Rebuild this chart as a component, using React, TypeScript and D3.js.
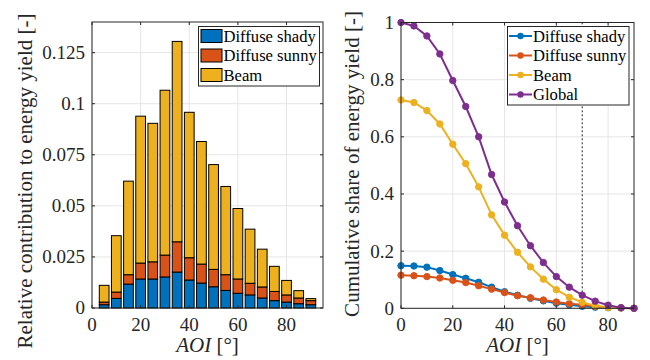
import React from "react";
import * as d3 from "d3";

const barAOI = [5, 10, 15, 20, 25, 30, 35, 40, 45, 50, 55, 60, 65, 70, 75, 80, 85, 90];
const barShady = [0.0016, 0.0047, 0.0117, 0.0142, 0.0142, 0.0152, 0.0176, 0.0137, 0.0122, 0.0104, 0.0086, 0.0072, 0.0064, 0.0049, 0.0036, 0.0029, 0.0021, 0.0016];
const barSunny = [0.0013, 0.0031, 0.0046, 0.0078, 0.0084, 0.0107, 0.0148, 0.0109, 0.0093, 0.0085, 0.0077, 0.007, 0.0057, 0.0054, 0.0045, 0.0035, 0.0028, 0.002];
const barBeam = [0.0082, 0.0276, 0.0458, 0.0719, 0.0678, 0.0807, 0.0981, 0.0712, 0.06, 0.0513, 0.0432, 0.0345, 0.0265, 0.0185, 0.0123, 0.0071, 0.0036, 0.001];

const lineAOI = [0, 5, 10, 15, 20, 25, 30, 35, 40, 45, 50, 55, 60, 65, 70, 75, 80, 85, 90];
const cumShady = [0.149, 0.148, 0.144, 0.132, 0.118, 0.105, 0.091, 0.074, 0.058, 0.046, 0.035, 0.026, 0.018, 0.012, 0.007, 0.004, 0.002, 0.001, 0];
const cumSunny = [0.116, 0.114, 0.111, 0.106, 0.098, 0.09, 0.079, 0.067, 0.055, 0.044, 0.037, 0.029, 0.022, 0.016, 0.012, 0.007, 0.004, 0.002, 0];
const cumBeam = [0.729, 0.72, 0.692, 0.645, 0.574, 0.506, 0.425, 0.327, 0.256, 0.196, 0.145, 0.102, 0.065, 0.039, 0.021, 0.009, 0.003, 0.001, 0];
const cumGlobal = [1.0, 0.988, 0.953, 0.89, 0.797, 0.706, 0.6, 0.468, 0.372, 0.289, 0.219, 0.16, 0.111, 0.074, 0.046, 0.025, 0.011, 0.002, 0];

const leftYTicks = [0, 0.025, 0.05, 0.075, 0.1, 0.125];
const leftYTickLabels = ["0", "0.025", "0.05", "0.075", "0.1", "0.125"];
const rightYTicks = [0, 0.2, 0.4, 0.6, 0.8, 1];
const rightYTickLabels = ["0", "0.2", "0.4", "0.6", "0.8", "1"];
const xTicks = [0, 20, 40, 60, 80];
const barNames = ["Diffuse shady", "Diffuse sunny", "Beam"];
const lineNames = ["Diffuse shady", "Diffuse sunny", "Beam", "Global"];
const markerAOI = 70;

const C = ["#0072BD", "#D95319", "#EDB120", "#7E2F8E"];
const AX = "#262626";
const GRID = "#e5e5e5";
const ts = { fontFamily: '"Liberation Serif"' };

function Frame({ x, y, xt, yt }: any) {
  const [x0, x1] = x.range();
  const [y0, y1] = y.range();
  return (
    <g>
      {xt.map((t: number) => (
        <line key={"gx" + t} x1={x(t)} x2={x(t)} y1={y0} y2={y1} stroke={GRID} strokeWidth={1} />
      ))}
      {yt.map((t: number) => (
        <line key={"gy" + t} x1={x0} x2={x1} y1={y(t)} y2={y(t)} stroke={GRID} strokeWidth={1} />
      ))}
    </g>
  );
}

function Axes({ x, y, xt, yt, ytl, ylabel, labelX, labelY }: any) {
  const [x0, x1] = x.range();
  const [y0, y1] = y.range();
  const tl = 3;
  const midX = (x0 + x1) / 2;
  return (
    <g fill={AX}>
      <rect x={x0} y={y1} width={x1 - x0} height={y0 - y1} fill="none" stroke={AX} strokeWidth={1} />
      {xt.map((t: number) => (
        <g key={"tx" + t}>
          <line x1={x(t)} x2={x(t)} y1={y0} y2={y0 - tl} stroke={AX} />
          <line x1={x(t)} x2={x(t)} y1={y1} y2={y1 + tl} stroke={AX} />
          <text x={x(t)} y={330.5} textAnchor="middle" fontSize={19} style={ts}>{t}</text>
        </g>
      ))}
      {yt.map((t: number, i: number) => (
        <g key={"ty" + t}>
          <line x1={x0} x2={x0 + tl} y1={y(t)} y2={y(t)} stroke={AX} />
          <line x1={x1} x2={x1 - tl} y1={y(t)} y2={y(t)} stroke={AX} />
          <text x={x0 - 7} y={y(t)} dy="0.34em" textAnchor="end" fontSize={19} style={ts}>{ytl[i]}</text>
        </g>
      ))}
      <text x={midX} y={352} textAnchor="middle" fontSize={21} style={ts}>
        <tspan fontStyle="italic">AOI</tspan>
        <tspan> [°]</tspan>
      </text>
      <text transform={`translate(${labelX},${labelY}) rotate(-90)`} textAnchor="middle" fontSize={21} style={ts}>
        {ylabel}
      </text>
    </g>
  );
}

export default function App() {
  const xL = d3.scaleLinear().domain([0, 95]).range([92, 323]);
  const yL = d3.scaleLinear().domain([0, 0.14]).range([308, 22]);
  const xR = d3.scaleLinear().domain([0, 90]).range([401, 634]);
  const yR = d3.scaleLinear().domain([0, 1]).range([308.3, 22.5]);

  const stackData = barAOI.map((a, i) => ({ a, s0: barShady[i], s1: barSunny[i], s2: barBeam[i] }));
  const stacked = d3.stack<any>().keys(["s0", "s1", "s2"])(stackData);
  const bw = xL(4) - xL(0);

  const series = [cumShady, cumSunny, cumBeam, cumGlobal];
  const line = d3
    .line<number>()
    .x((_, i) => xR(lineAOI[i]))
    .y((v) => yR(v));

  return (
    <svg width={650} height={360} style={{ position: "absolute", left: 0, top: 0, background: "#fff" }}>
      {/* Left panel */}
      <Frame x={xL} y={yL} xt={xTicks} yt={leftYTicks} />
      {stacked.map((layer, k) => (
        <g key={"layer" + k}>
          {layer.map((d: any, i: number) => (
            <rect
              key={i}
              x={xL(barAOI[i]) - bw / 2}
              y={yL(d[1])}
              width={bw}
              height={yL(d[0]) - yL(d[1])}
              fill={C[k]}
              stroke="#000"
              strokeWidth={1}
            />
          ))}
        </g>
      ))}
      <Axes x={xL} y={yL} xt={xTicks} yt={leftYTicks} ytl={leftYTickLabels} ylabel="Relative contribution to energy yield [-]" labelX={32} labelY={181} />
      <g>
        <rect x={198.5} y={26.5} width={121} height={59.5} fill="#fff" stroke={AX} strokeWidth={1} />
        {barNames.map((n, i) => (
          <g key={n}>
            <rect x={201} y={36 + i * 19.5 - 6.5} width={21} height={13} fill={C[i]} stroke="#000" strokeWidth={1} />
            <text x={223.5} y={36 + i * 19.5} dy="0.34em" fontSize={16.6} fill="#000" style={ts}>{n}</text>
          </g>
        ))}
      </g>

      {/* Right panel */}
      <Frame x={xR} y={yR} xt={xTicks} yt={rightYTicks} />
      <line x1={xR(markerAOI)} x2={xR(markerAOI)} y1={yR(0)} y2={yR(1)} stroke={AX} strokeWidth={1} strokeDasharray="2,2" />
      {series.map((s, k) => (
        <g key={"ser" + k}>
          <path d={line(s) || ""} fill="none" stroke={C[k]} strokeWidth={2} />
          {s.map((v, i) => (
            <circle key={i} cx={xR(lineAOI[i])} cy={yR(v)} r={3.2} fill={C[k]} stroke={C[k]} strokeWidth={1} />
          ))}
        </g>
      ))}
      <Axes x={xR} y={yR} xt={xTicks} yt={rightYTicks} ytl={rightYTickLabels} ylabel="Cumulative share of energy yield [-]" labelX={359} labelY={164} />
      <g>
        <rect x={507.5} y={26.5} width={121.5} height={78.5} fill="#fff" stroke={AX} strokeWidth={1} />
        {lineNames.map((n, i) => (
          <g key={n}>
            <line x1={509} x2={532} y1={36 + i * 19.5} y2={36 + i * 19.5} stroke={C[i]} strokeWidth={2} />
            <circle cx={520.5} cy={36 + i * 19.5} r={3.2} fill={C[i]} />
            <text x={533} y={36 + i * 19.5} dy="0.34em" fontSize={16.6} fill="#000" style={ts}>{n}</text>
          </g>
        ))}
      </g>
    </svg>
  );
}
